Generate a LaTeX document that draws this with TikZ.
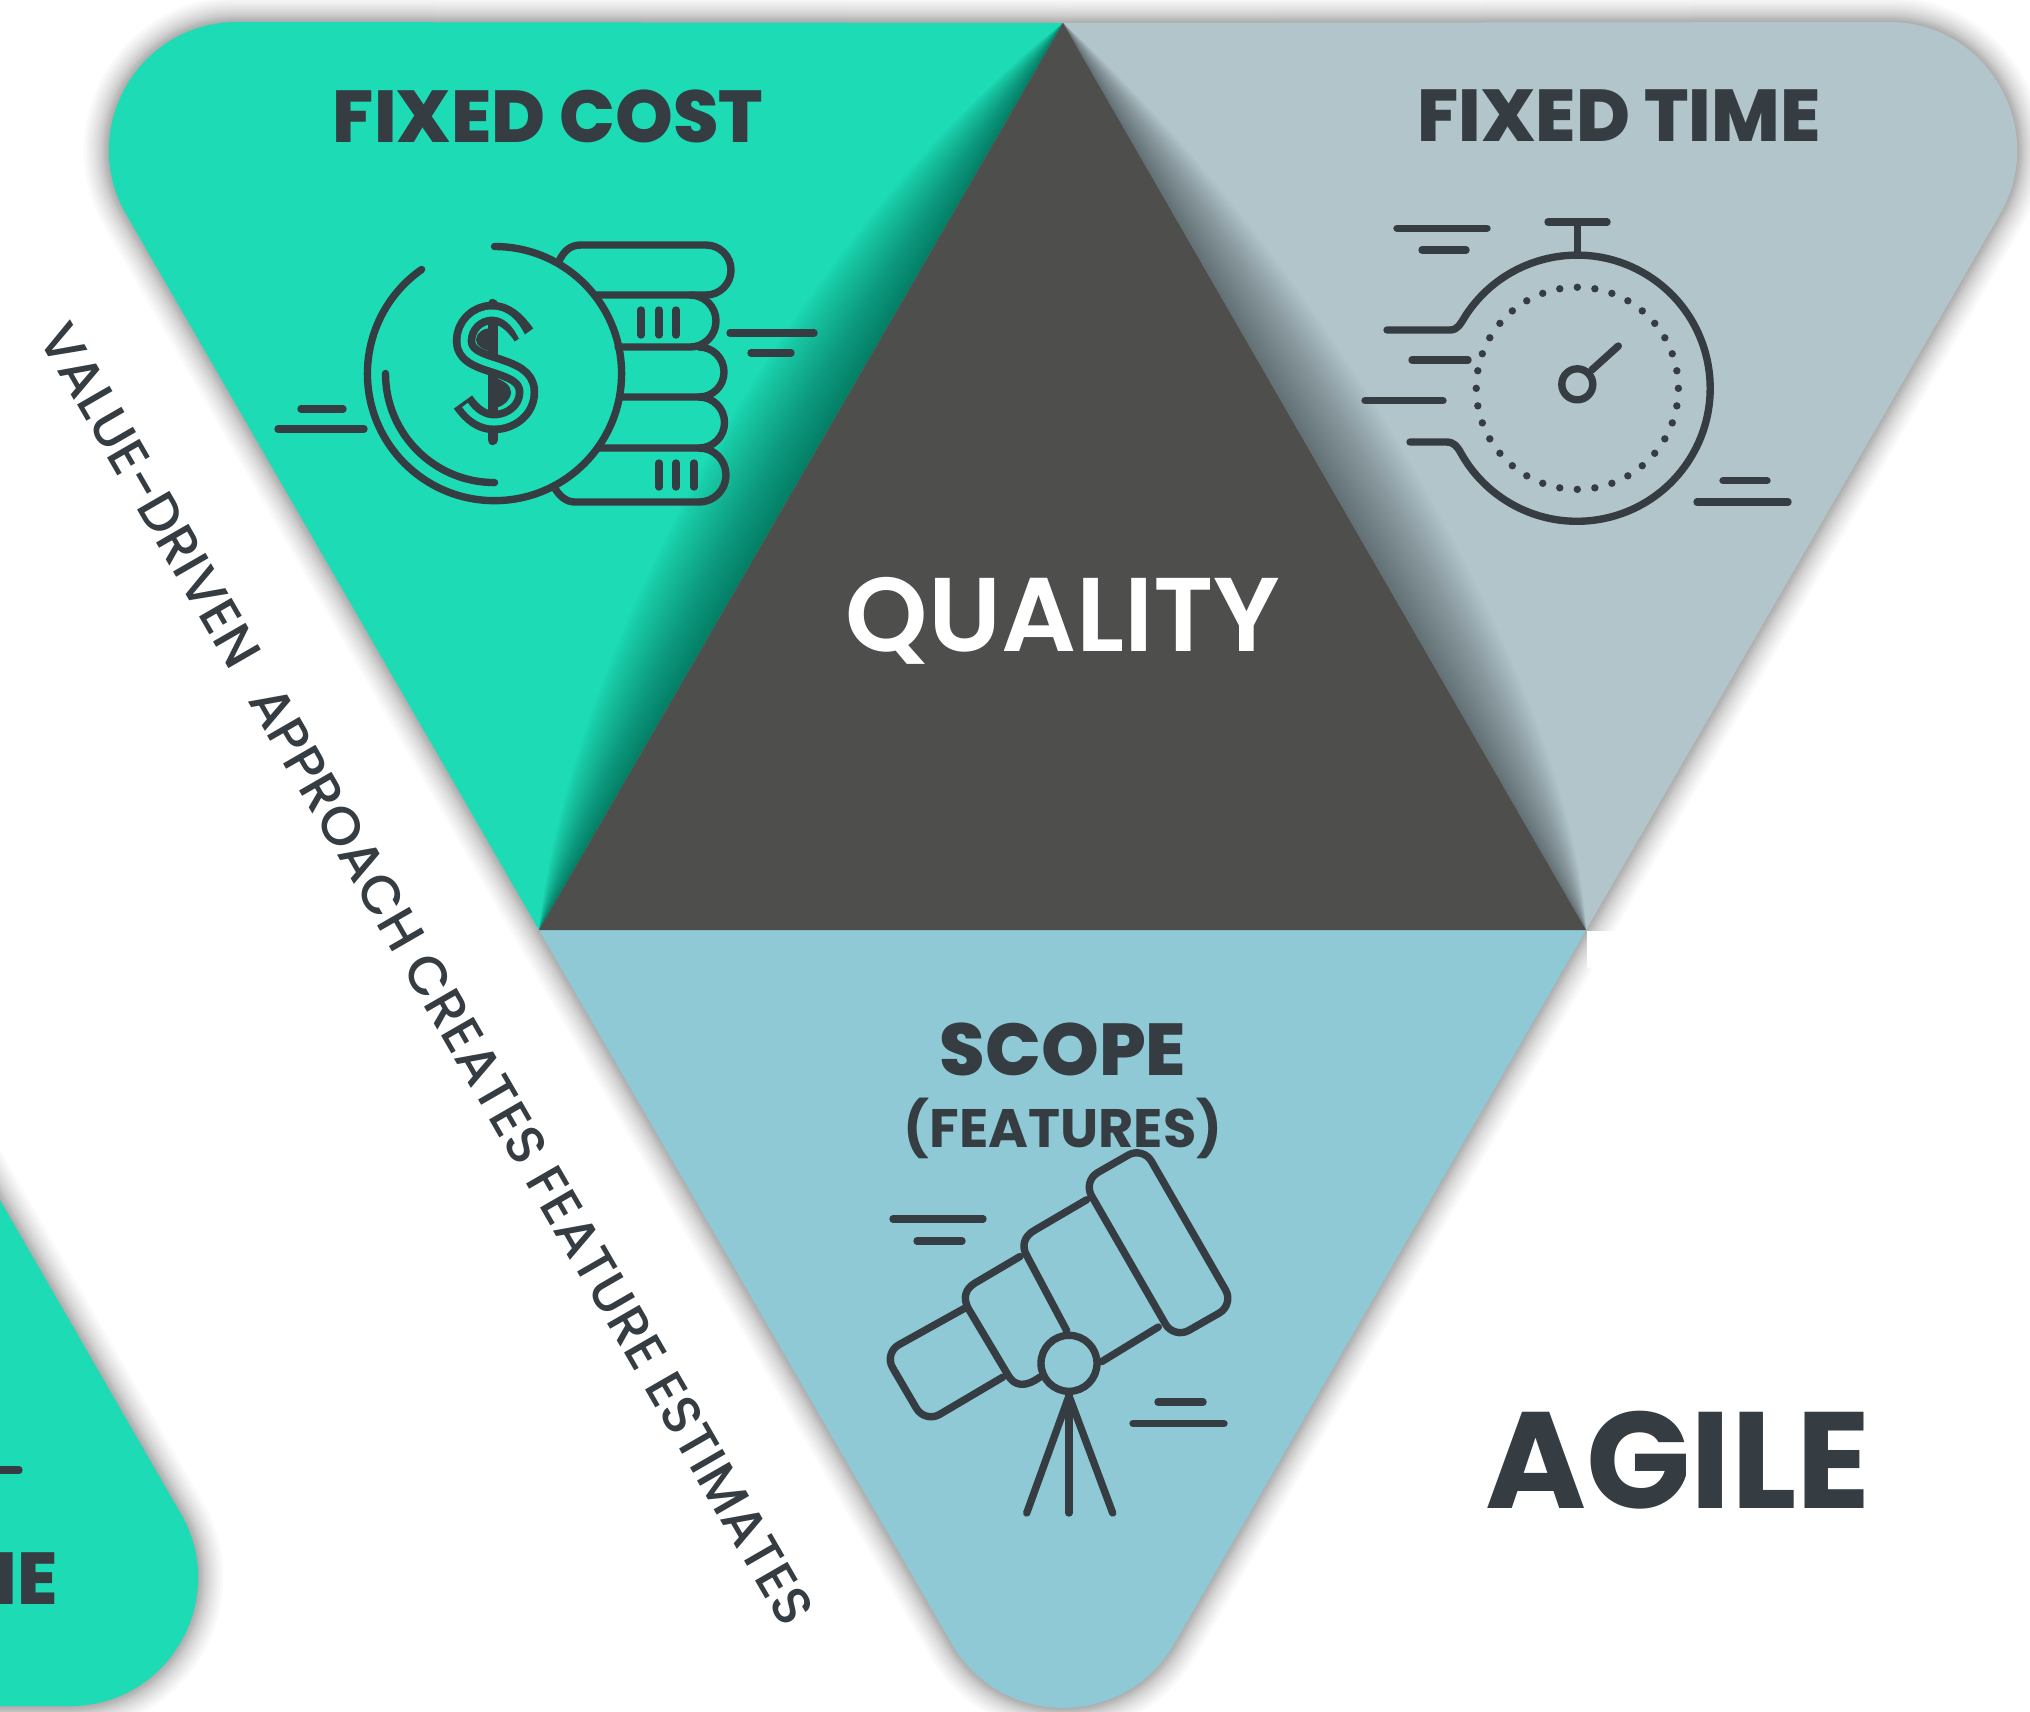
\documentclass[tikz,border=0pt]{standalone}
\usepackage{fontspec}
\setmainfont{Poppins}
\newfontfamily\heavyfont{Poppins ExtraBold}
\newfontfamily\semifont{Poppins SemiBold}
\newfontfamily\mediumfont{Poppins Medium}
\definecolor{costcolor}{HTML}{1CDBB5}
\definecolor{timecolor}{HTML}{B2C5CB}
\definecolor{scopecolor}{HTML}{8EC9D5}
\definecolor{qualitycolor}{HTML}{4E4E4C}
\definecolor{inkcolor}{HTML}{363D42}
\tikzset{
  iconline/.style={draw=inkcolor,line width=2.1pt,line cap=round,line join=round},
  heading/.style={text=inkcolor,font=\fontsize{20.9}{20.9}\selectfont\heavyfont,inner sep=0pt},
  softedge/.style={draw=black,draw opacity=0.024,line join=round},
  softfold/.style={fill=black,fill opacity=0.019}
}
\def\costshape{(1063,23) -- (237,22) .. controls (138.5,22) and (77,129) .. (126,214) -- (539,930) -- cycle}
\def\timeshape{(1063,23) -- (1889,22) .. controls (1987.5,22) and (2049,129) .. (2000,214) -- (1586,930) -- cycle}
\def\scopeshape{(539,930) -- (952,1644) .. controls (1001,1729) and (1125,1729) .. (1174,1644) -- (1586,930) -- cycle}
\def\restshape{(-30,1148) -- (181,1514) .. controls (230,1599) and (168.5,1706) .. (70,1706) -- (-30,1706) -- cycle}
\begin{document}
\begin{tikzpicture}[x=0.01cm,y=-0.01cm]
\useasboundingbox (0,0) rectangle (2030,1711);
\clip (0,0) rectangle (2030,1711);

\foreach \w in {2,4,6,8,10,12,14,17,20,23,26,30,34,39,44,50} {
  \draw[softedge,line width=\w*0.01cm] \costshape \timeshape \scopeshape \restshape;
}
\fill[white] (1587,931) rectangle (1650,968);

\fill[costcolor] \costshape;
\fill[timecolor] \timeshape;
\fill[scopecolor] \scopeshape;
\fill[costcolor] \restshape;

\foreach \d in {5,10,...,120} {
  \fill[softfold] (1063,23) .. controls ({916-.866*\d},{279-.5*\d}) and ({676-.866*\d},{692-.5*\d}) .. (539,930) -- cycle;
  \fill[softfold] (1063,23) .. controls ({1230+.866*\d*.9},{312-.5*\d*.9}) and ({1481+.866*\d*.9},{749-.5*\d*.9}) .. (1586,930) -- cycle;
}
\fill[qualitycolor] (1063,23) -- (1586,930) -- (539,930) -- cycle;

\node[heading] (fixedcost) at (548,116) {FIXED COST};
\node[heading] (fixedtime) at (1619,116) {FIXED TIME};
\node[heading] (scope) at (1063,1049) {SCOPE};
\node[heading,font=\fontsize{15.4}{15.4}\selectfont\bfseries] (features) at (1063,1128) {(FEATURES)};
\node[heading,text=white,font=\fontsize{29.8}{29.8}\selectfont\semifont] (quality) at (1063,621) {QUALITY};
\node[heading,font=\fontsize{39}{39}\selectfont\bfseries] (agile) at (1678,1460) {AGILE};
\node[heading,anchor=east] (restlabel) at (58,1579) {ME};
\node[text=inkcolor,font=\fontsize{15.3}{15.3}\selectfont\mediumfont,rotate=-60,inner sep=0pt] (approach) at (427,974) {VALUE-DRIVEN\hspace{0.35em} APPROACH CREATES FEATURE ESTIMATES};
\draw[iconline] (-10,1470) -- (19,1470);

\draw[iconline] (494.5,246.5) arc[start angle=90,end angle=-235,radius=1.27cm];
\draw[iconline] (385.5,373.5) arc[start angle=180,end angle=270,radius=1.09cm];
\draw[iconline] (559,261) .. controls (564,251) and (570,245) .. (581,245) -- (706,245) arc[start angle=90,end angle=-90,radius=0.25cm] -- (595,295);
\draw[iconline] (690,295) arc[start angle=90,end angle=-90,radius=0.26cm] -- (618,347);
\draw[iconline] (699,347) arc[start angle=90,end angle=-90,radius=0.25cm] -- (621,397);
\draw[iconline] (699,397) arc[start angle=90,end angle=-90,radius=0.255cm] -- (600,448);
\draw[iconline] (699,448) arc[start angle=90,end angle=-90,radius=0.27cm] -- (575,502) .. controls (565,502) and (559,495) .. (554,487);
\foreach \x in {641,659,676} \draw[iconline] (\x,310) -- (\x,335);
\foreach \x in {659,676,694} \draw[iconline] (\x,463) -- (\x,487);
\draw[iconline] (730,333) -- (814,333);
\draw[iconline] (751,353) -- (791,353);
\draw[iconline] (301,409) -- (343,409);
\draw[iconline] (278,429) -- (364,429);
\draw[iconline,line width=2.9pt] (492.6,304) -- (492.6,440);
\draw[inkcolor,line width=6.4pt,line join=round] (524,335) .. controls (515,322) and (505,313) .. (492,313) .. controls (476,313) and (464,326) .. (464,341) .. controls (464,355) and (478,360) .. (494,365) .. controls (512,371) and (527,376) .. (527,392) .. controls (527,410) and (511,422) .. (494,422) .. controls (482,422) and (472,415) .. (463,402);
\draw[costcolor,line width=2pt,line join=round] (522,337) .. controls (515,322) and (505,313) .. (492,313) .. controls (476,313) and (464,326) .. (464,341) .. controls (464,355) and (478,360) .. (494,365) .. controls (512,371) and (527,376) .. (527,392) .. controls (527,410) and (511,422) .. (494,422) .. controls (482,422) and (472,415) .. (465,405);
\fill[inkcolor] (492,328) .. controls (482,328) and (476,334) .. (476,340) .. controls (476,346) and (484,350) .. (492,352) -- cycle;
\fill[inkcolor] (493,377) .. controls (503,380) and (511,385) .. (511,392) .. controls (511,400) and (502,408) .. (493,408) -- cycle;

\draw[iconline] (1387,330) -- (1450,330) .. controls (1458,330) and (1461,323) .. (1465,316.5) arc[start angle=147.4,end angle=-150.6,radius=1.33cm] .. controls (1457,446) and (1454,442) .. (1446,442) -- (1410,442);
\draw[iconline] (1577.3,222) -- (1577.3,253);
\draw[iconline] (1548,222) -- (1607,222);
\foreach \a in {0,10,...,350} \fill[inkcolor] (1577.3,388.3) ++(\a:1.01cm) circle[radius=0.037cm];
\draw[iconline] (1577.3,384.3) circle[radius=0.155cm];
\draw[iconline] (1591.7,370) -- (1618.3,346);
\draw[iconline] (1397,228.3) -- (1487,228.3);
\draw[iconline] (1422,250) -- (1466,250);
\draw[iconline] (1412,360) -- (1468,360);
\draw[iconline] (1365,400.7) -- (1443,400.7);
\draw[iconline] (1723,480.7) -- (1767,480.7);
\draw[iconline] (1697,502) -- (1788,502);

\draw[iconline,rounded corners=0.17cm] (1083,1181) -- (1143,1146.6) -- (1234,1304.6) -- (1174,1338.8) -- cycle;
\draw[iconline] (1086.7,1199.7) -- (1035,1230) .. controls (1024,1236) and (1021,1246) .. (1027,1256) -- (1066.7,1330.6);
\draw[iconline] (1101.7,1361.6) -- (1158.3,1327);
\draw[iconline] (1020,1256.5) -- (975,1283) .. controls (965,1289) and (963,1298) .. (968,1308) -- (1008,1375) .. controls (1014,1386) and (1025,1388) .. (1040,1377);
\draw[iconline,rounded corners=0.17cm] (965,1308) -- (884,1353) -- (925,1423) -- (1003,1377);
\draw[iconline] (1069,1363.3) circle[radius=0.28cm];
\draw[iconline] (1069,1396) -- (1026.7,1513);
\draw[iconline] (1069,1396) -- (1069,1513);
\draw[iconline] (1069,1396) -- (1112.7,1513);
\draw[iconline] (893,1219) -- (983,1219);
\draw[iconline] (917,1241) -- (962,1241);
\draw[iconline] (1158,1402) -- (1203,1402);
\draw[iconline] (1133,1423.5) -- (1224,1423.5);
\end{tikzpicture}
\end{document}
